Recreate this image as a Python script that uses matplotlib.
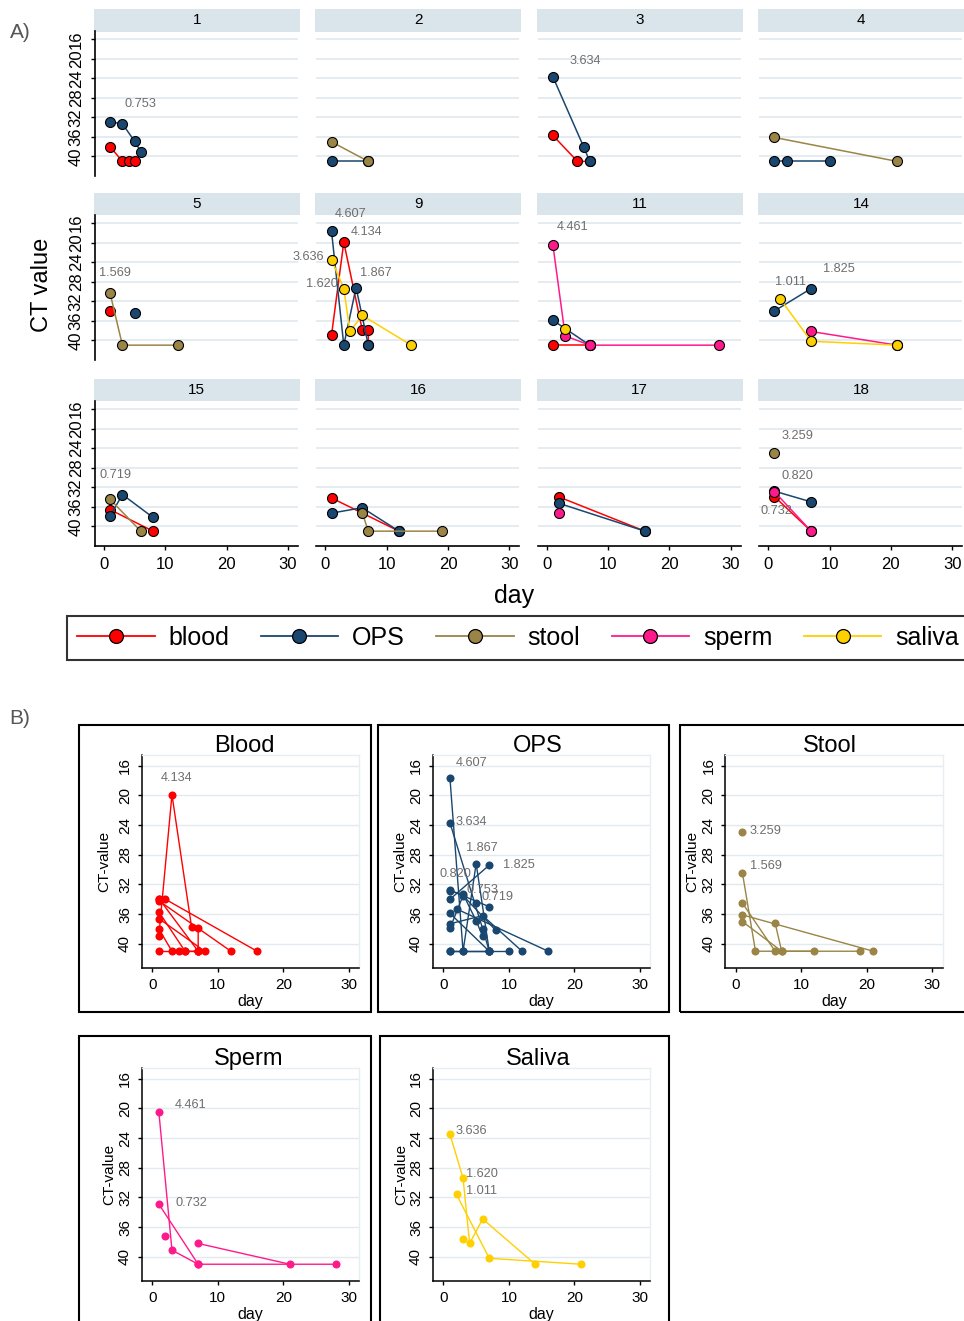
import matplotlib
matplotlib.use('Agg')
import matplotlib.pyplot as plt
from matplotlib.lines import Line2D
from matplotlib.patches import Rectangle

plt.rcParams['font.family'] = ['Liberation Sans', 'DejaVu Sans']

W, H = 964, 1321

# ---------------- data ----------------
sample_types = ['blood', 'OPS', 'stool', 'sperm', 'saliva']
panel_b_titles = ['Blood', 'OPS', 'Stool', 'Sperm', 'Saliva']
colors = ['#ff0000', '#1a476f', '#9a8446', '#ff1a8c', '#ffd000']
patients = [1, 2, 3, 4, 5, 9, 11, 14, 15, 16, 17, 18]

blood_days = {1: [1, 3, 4, 5], 3: [1, 5, 7], 5: [1], 9: [1, 3, 6, 7, 7], 11: [1, 7],
              15: [1, 8], 16: [1, 12], 17: [2, 16], 18: [1, 7]}
blood_ct = {1: [38.0, 41, 41, 41], 3: [35.7, 41, 41], 5: [33.9], 9: [38.9, 19.9, 37.8, 37.9, 41],
            11: [41, 41], 15: [36.6, 41], 16: [34.2, 41], 17: [34.0, 41], 18: [33.9, 41]}

ops_days = {1: [1, 3, 5, 6], 2: [1, 7], 3: [1, 6, 7], 4: [1, 3, 10], 5: [5], 9: [1, 3, 5, 7],
            11: [1, 7], 14: [1, 7], 15: [1, 3, 8], 16: [1, 6, 12], 17: [2, 16], 18: [1, 7]}
ops_ct = {1: [32.9, 33.3, 36.9, 39.0], 2: [41, 41], 3: [23.7, 38.0, 41], 4: [41, 41, 41], 5: [34.5],
          9: [17.7, 41, 29.2, 41], 11: [35.9, 41], 14: [34.0, 29.4], 15: [37.9, 33.5, 38.2],
          16: [37.3, 36.2, 41], 17: [35.3, 41], 18: [32.8, 35.0]}

stool_days = {2: [1, 7], 4: [1, 21], 5: [1, 3, 12], 15: [1, 6], 16: [6, 7, 19], 18: [1]}
stool_ct = {2: [37.0, 41], 4: [36.1, 41], 5: [30.4, 41, 41], 15: [34.5, 41], 16: [37.2, 41, 41], 18: [24.9]}

sperm_days = {11: [1, 3, 7, 28], 14: [7, 21], 17: [2], 18: [1, 7]}
sperm_ct = {11: [20.5, 39.1, 41, 41], 14: [38.2, 41], 17: [37.2], 18: [32.9, 41]}

saliva_days = {9: [1, 3, 4, 6, 14], 11: [3], 14: [2, 7, 21]}
saliva_ct = {9: [23.5, 29.4, 38.2, 34.9, 41], 11: [37.6], 14: [31.6, 40.2, 41]}

# viral load labels (patient, day, ct, text) for panel A
panel_a_labels = [(1, 5.9, 29.2, '0.753'), (3, 6.25, 20.4, '3.634'), (5, 1.8, 26.2, '1.569'),
                  (9, 4.1, 14.2, '4.607'), (9, 6.7, 17.9, '4.134'), (9, -2.8, 23.0, '3.636'),
                  (9, 8.2, 26.2, '1.867'), (9, -0.6, 28.5, '1.620'), (11, 4.2, 16.7, '4.461'),
                  (14, 11.5, 25.3, '1.825'), (14, 3.6, 28.0, '1.011'), (15, 1.8, 29.4, '0.719'),
                  (18, 4.7, 21.6, '3.259'), (18, 4.7, 29.8, '0.820'), (18, 1.3, 36.9, '0.732')]

panel_b_labels = {
    'blood': [(3.7, 17.6, '4.134')],
    'OPS': [(4.3, 15.6, '4.607'), (4.3, 23.55, '3.634'), (5.9, 27.1, '1.867'), (11.5, 29.4, '1.825'),
            (1.9, 30.6, '0.820'), (5.9, 32.7, '0.753'), (8.2, 33.75, '0.719')],
    'stool': [(4.5, 24.8, '3.259'), (4.6, 29.5, '1.569')],
    'sperm': [(5.9, 19.6, '4.461'), (5.9, 32.7, '0.732')],
    'saliva': [(4.3, 23.0, '3.636'), (5.9, 28.85, '1.620'), (5.8, 31.1, '1.011')],
}

ct_ticks = [16, 20, 24, 28, 32, 36, 40]
day_ticks = [0, 10, 20, 30]

series = {'blood': (blood_days, blood_ct), 'OPS': (ops_days, ops_ct), 'stool': (stool_days, stool_ct),
          'sperm': (sperm_days, sperm_ct), 'saliva': (saliva_days, saliva_ct)}

# ---------------- figure ----------------
fig = plt.figure(figsize=(W / 100, H / 100), dpi=100)
GRID = '#e2eaf0'
LABEL_GREY = '#6e6e6e'


def rect(l, t, r, b):
    return [l / W, 1 - b / H, (r - l) / W, (b - t) / H]


# ---------------- panel A ----------------
colA_left0, colA_step, axA_w, axA_h = 94.8, 221.4, 203, 145
rowA_top = [31.5, 215.3, 401.3]
strip_color = '#d9e4eb'

for i, p in enumerate(patients):
    r, c = divmod(i, 4)
    l = colA_left0 + c * colA_step
    t = rowA_top[r]
    fig.patches.append(Rectangle(((l - 0.8) / W, 1 - t / H), 206 / W, 22 / H,
                                 transform=fig.transFigure, facecolor=strip_color,
                                 edgecolor='none', zorder=-1))
    fig.text((l + 102) / W, 1 - (t - 11) / H, str(p), ha='center', va='center', fontsize=11,
             zorder=-1)
    ax = fig.add_axes(rect(l, t, l + axA_w, t + axA_h))
    ax.set_facecolor('none')
    ax.set_xlim(-1.5, 31.6)
    ax.set_ylim(44.1, 14.4)
    ax.set_yticks(ct_ticks)
    ax.set_xticks(day_ticks)
    ax.grid(axis='y', color=GRID, lw=1.3)
    ax.set_axisbelow(True)
    for s in ['top', 'right']:
        ax.spines[s].set_visible(False)
    ax.spines['left'].set_visible(c == 0)
    ax.spines['bottom'].set_visible(r == 2)
    ax.spines['left'].set_linewidth(1.2)
    ax.spines['bottom'].set_linewidth(1.2)
    if c == 0:
        ax.set_yticklabels([str(v) for v in ct_ticks], rotation=90, va='center')
        ax.tick_params(axis='y', length=3, width=1, labelsize=12, pad=5)
    else:
        ax.tick_params(axis='y', length=0, labelleft=False)
    if r == 2:
        ax.tick_params(axis='x', length=3, width=1, labelsize=12, pad=5)
    else:
        ax.tick_params(axis='x', length=0, labelbottom=False)
    for k, st in enumerate(sample_types):
        dd, cc = series[st]
        if p in dd:
            ax.plot(dd[p], cc[p], color=colors[k], lw=1.1, marker='o', ms=7.2,
                    mfc=colors[k], mec='black', mew=0.8, clip_on=False, zorder=3 + k)
    for (pp, x, y, s) in panel_a_labels:
        if pp == p:
            ax.text(x, y, s, ha='center', va='center', fontsize=9.2, color=LABEL_GREY,
                    clip_on=False, zorder=10)

fig.text(42 / W, 1 - 285 / H, 'CT value', rotation=90, ha='center', va='center', fontsize=17)
fig.text(514 / W, 1 - 596 / H, 'day', ha='center', va='center', fontsize=18)
fig.text(20 / W, 1 - 33 / H, 'A)', ha='center', va='center', fontsize=15, color='#555555')
fig.text(20 / W, 1 - 718 / H, 'B)', ha='center', va='center', fontsize=15, color='#555555')

handles = [Line2D([], [], color=col, lw=1.3, marker='o', ms=10, mfc=col, mec='black', mew=0.9)
           for col in colors]
leg = fig.legend(handles, sample_types, loc='upper left', bbox_to_anchor=(67 / W, 1 - 616 / H),
                 ncol=5, frameon=True, fancybox=False, edgecolor='black', fontsize=18,
                 handlelength=3.1, handletextpad=0.56, columnspacing=1.25, borderpad=0.4,
                 borderaxespad=0)
leg.get_frame().set_linewidth(1.5)

# ---------------- panel B ----------------
boxes = [(79, 725, 371, 1012), (378, 725, 669, 1012), (680, 725, 990, 1012),
         (79, 1036, 371, 1345), (380, 1036, 669, 1345)]
axes_b = [(141.7, 755, 359.3, 968.3), (432.8, 755, 650.4, 968.3), (725.2, 755, 942.8, 968.3),
          (141.7, 1068, 359.3, 1281.3), (432.8, 1068, 650.4, 1281.3)]
ylabel_gap = [37, 33, 33, 32, 32]
title_pos = [(244, 746), (538, 746), (830, 746), (249, 1059), (538, 1059)]

for k, st in enumerate(sample_types):
    bl, bt, br, bb = boxes[k]
    fig.patches.append(Rectangle((bl / W, 1 - bb / H), (br - bl) / W, (bb - bt) / H,
                                 transform=fig.transFigure, fill=False, edgecolor='black',
                                 lw=1.5, zorder=0))
    l, t, r_, b = axes_b[k]
    ax = fig.add_axes(rect(l, t, r_, b))
    ax.set_xlim(-1.62, 31.6)
    ax.set_ylim(43.3, 14.56)
    ax.set_yticks(ct_ticks)
    ax.set_xticks(day_ticks)
    ax.set_yticklabels([str(v) for v in ct_ticks], rotation=90, va='center')
    ax.grid(axis='y', color=GRID, lw=1.0)
    ax.set_axisbelow(True)
    for s in ['top', 'right']:
        ax.spines[s].set_color('#e8eef2')
        ax.spines[s].set_linewidth(1.0)
    for s in ['left', 'bottom']:
        ax.spines[s].set_linewidth(1.1)
    ax.tick_params(axis='both', length=3, width=1, labelsize=11, pad=4)
    dd, cc = series[st]
    for p in patients:
        if p in dd:
            ax.plot(dd[p], cc[p], color=colors[k], lw=1.0, marker='o', ms=5.8,
                    mfc=colors[k], mec='none', clip_on=False, zorder=3)
    for (x, y, s) in panel_b_labels[st]:
        ax.text(x, y, s, ha='center', va='center', fontsize=9.2, color=LABEL_GREY,
                clip_on=False, zorder=10)
    tx, ty = title_pos[k]
    fig.text(tx / W, 1 - ty / H, panel_b_titles[k], ha='center', va='center', fontsize=17)
    fig.text((l - ylabel_gap[k]) / W, 1 - (t + b) / 2 / H, 'CT-value', rotation=90, ha='center',
             va='center', fontsize=11)
    fig.text((l + r_) / 2 / W, 1 - (b + 33) / H, 'day', ha='center', va='center', fontsize=11.5)

fig.savefig('out.png', dpi=100)
